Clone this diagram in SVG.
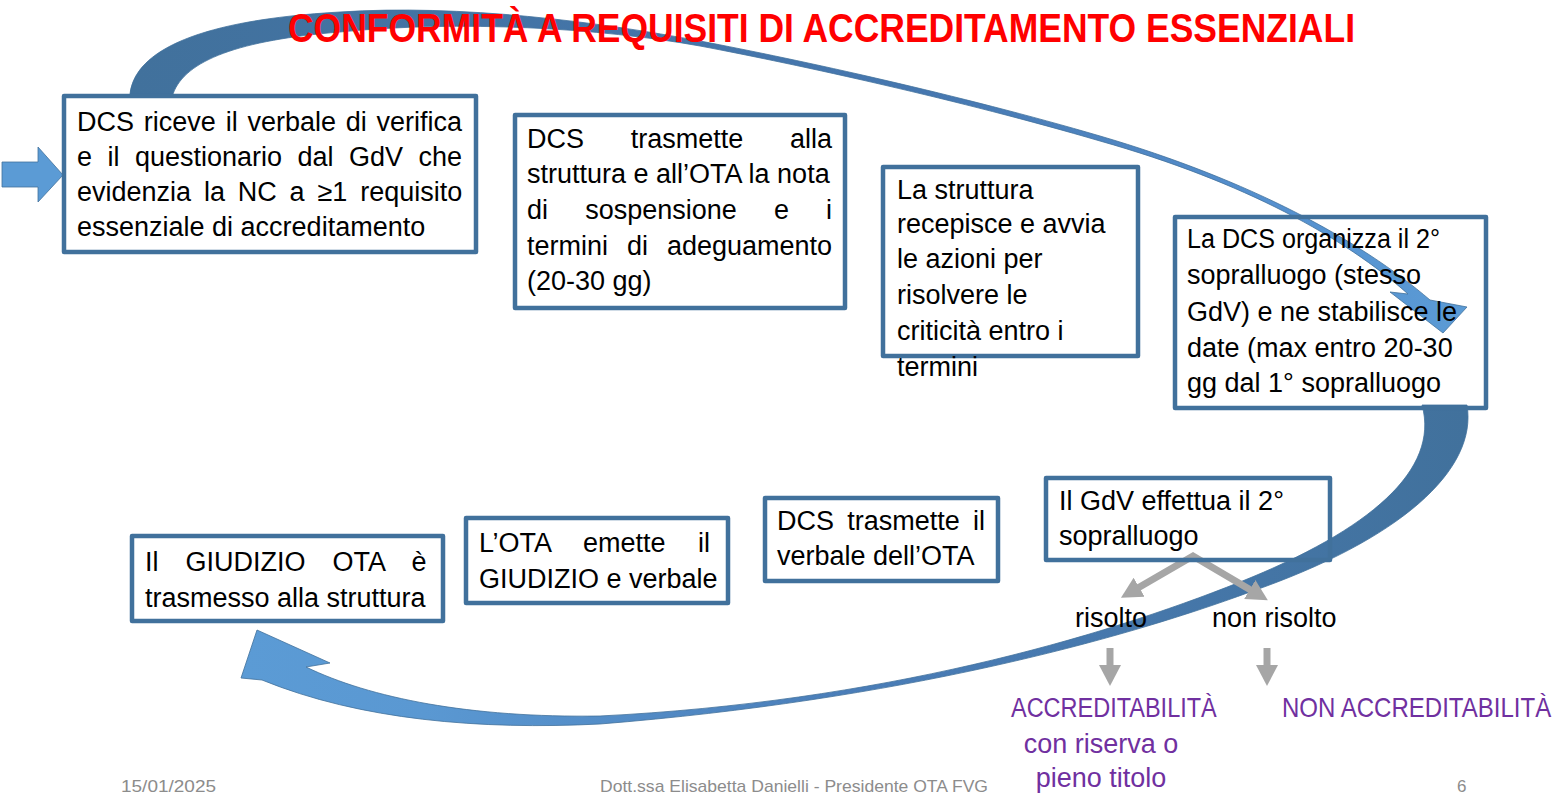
<svg xmlns="http://www.w3.org/2000/svg" width="1557" height="793" viewBox="0 0 1557 793">
<style>
.box{fill:none;stroke:#41719C;stroke-width:4.5;stroke-linejoin:round}
.t{font-family:'Liberation Sans',Arial,sans-serif;font-size:27px;fill:#000}
.p{font-family:'Liberation Sans',Arial,sans-serif;font-size:27px;fill:#7030A0}
.g{fill:none;stroke:#A6A6A6;stroke-width:7;stroke-linejoin:miter}
.f{font-family:'Liberation Sans',Arial,sans-serif;font-size:17px;fill:#8C8C8C}
.blk{stroke:#41719C;stroke-width:0.8}
</style>
<defs>
<linearGradient id="topGrad" x1="0" y1="0" x2="1" y2="0">
<stop offset="0" stop-color="#41719C"/>
<stop offset="0.6" stop-color="#4677B0"/>
<stop offset="0.85" stop-color="#5590CF"/>
<stop offset="1" stop-color="#5B9BD5"/>
</linearGradient>
<linearGradient id="botGrad" x1="0" y1="0" x2="1" y2="0">
<stop offset="0" stop-color="#5B9BD5"/>
<stop offset="0.15" stop-color="#5A98D2"/>
<stop offset="0.5" stop-color="#4A7DB8"/>
<stop offset="1" stop-color="#41719C"/>
</linearGradient>
<marker id="gh" markerUnits="userSpaceOnUse" markerWidth="22" markerHeight="24" viewBox="0 -12 22 24" refX="2" refY="0" orient="auto-start-reverse">
<path d="M0,-11 L21,0 L0,11 Z" fill="#A6A6A6"/>
</marker>
</defs>

<g id="connectors">
<path class="blk" fill="url(#topGrad)" d="M130,94 C135,50 200,20 340,12 C460,4 600,22 700,41 C800,60 960,95 1100,136 C1250,180 1360,240 1430,300 L1467,307 L1443,333 L1390,292 L1408,294 C1345,238 1245,182 1100,141 C960,100 800,65 700,46 C600,28 460,20 340,32 C240,40 185,60 173,94 Z"/>
<path class="blk" fill="url(#botGrad)" d="M1467,405 C1478,470 1400,540 1250,592 C1120,640 900,700 600,724 C480,730 360,720 262,680 L241,678 L257,630 L330,663 L306,667 C370,698 470,718 600,716 C880,702 1100,638 1240,582 C1370,530 1440,470 1422,405 Z"/>
<polygon class="blk" fill="#5B9BD5" points="2,162 38,162 38,147 63,175 38,202 38,187 2,187"/>
<path class="g" d="M1137.4,588.3 L1193,556 L1251.5,590.6" marker-start="url(#gh)" marker-end="url(#gh)"/>
<path class="g" d="M1110,648 L1110,667" marker-end="url(#gh)"/>
<path class="g" d="M1267,648 L1267,667" marker-end="url(#gh)"/>
</g>

<g id="title">
<text x="288" y="42" font-family="'Liberation Sans',Arial,sans-serif" font-size="40" font-weight="bold" fill="#FF0000" textLength="1067" lengthAdjust="spacingAndGlyphs">CONFORMITÀ A REQUISITI DI ACCREDITAMENTO ESSENZIALI</text>
</g>

<g id="node-dcs-riceve">
<rect class="box" x="64" y="96" width="412" height="156"/>
<text class="t" x="77" y="131" word-spacing="2.3">DCS riceve il verbale di verifica</text>
<text class="t" x="77" y="166" word-spacing="7.98">e il questionario dal GdV che</text>
<text class="t" x="77" y="201" word-spacing="5.34">evidenzia la NC a ≥1 requisito</text>
<text class="t" x="77" y="236">essenziale di accreditamento</text>
</g>

<g id="node-dcs-trasmette">
<rect class="box" x="515" y="115" width="330" height="193"/>
<text class="t" x="527" y="148" word-spacing="39.25">DCS trasmette alla</text>
<text class="t" x="527" y="183">struttura e all’OTA la nota</text>
<text class="t" x="527" y="219" word-spacing="29.63">di sospensione e i</text>
<text class="t" x="527" y="255" word-spacing="11.45">termini di adeguamento</text>
<text class="t" x="527" y="290">(20-30 gg)</text>
</g>

<g id="node-struttura">
<rect class="box" x="883" y="167" width="255" height="189"/>
<text class="t" x="897" y="199">La struttura</text>
<text class="t" x="897" y="233">recepisce e avvia</text>
<text class="t" x="897" y="268">le azioni per</text>
<text class="t" x="897" y="304">risolvere le</text>
<text class="t" x="897" y="340">criticità entro i</text>
<text class="t" x="897" y="376">termini</text>
</g>

<g id="node-dcs-organizza">
<rect class="box" x="1175" y="217" width="311" height="191"/>
<text class="t" x="1187" y="248" textLength="253" lengthAdjust="spacingAndGlyphs">La DCS organizza il 2°</text>
<text class="t" x="1187" y="284">sopralluogo (stesso</text>
<text class="t" x="1187" y="321">GdV) e ne stabilisce le</text>
<text class="t" x="1187" y="357">date (max entro 20-30</text>
<text class="t" x="1187" y="392">gg dal 1° sopralluogo</text>
</g>

<g id="node-gdv">
<rect class="box" x="1046" y="478" width="284" height="82"/>
<text class="t" x="1059" y="510">Il GdV effettua il 2°</text>
<text class="t" x="1059" y="545">sopralluogo</text>
</g>

<g id="node-dcs-verbale">
<rect class="box" x="765" y="498" width="233" height="83"/>
<text class="t" x="777" y="530" word-spacing="5.75">DCS trasmette il</text>
<text class="t" x="777" y="565">verbale dell’OTA</text>
</g>

<g id="node-ota-emette">
<rect class="box" x="466" y="518" width="262" height="85"/>
<text class="t" x="479" y="552" word-spacing="25">L’OTA emette il</text>
<text class="t" x="479" y="588">GIUDIZIO e verbale</text>
</g>

<g id="node-giudizio">
<rect class="box" x="132" y="536" width="311" height="85"/>
<text class="t" x="145" y="571" word-spacing="19.5">Il GIUDIZIO OTA è</text>
<text class="t" x="145" y="607">trasmesso alla struttura</text>
</g>

<g id="label-risolto">
<text class="t" x="1075" y="627">risolto</text>
</g>
<g id="label-non-risolto">
<text class="t" x="1212" y="627">non risolto</text>
</g>

<g id="outcome-accreditabilita">
<text class="p" transform="translate(1011,717) scale(0.87,1)">ACCREDITABILITÀ</text>
<text class="p" x="1101" y="753" text-anchor="middle">con riserva o</text>
<text class="p" x="1101" y="787" text-anchor="middle">pieno titolo</text>
</g>
<g id="outcome-non-accreditabilita">
<text class="p" transform="translate(1282,717) scale(0.89,1)">NON ACCREDITABILITÀ</text>
</g>

<g id="footer">
<text class="f" x="121" y="792" textLength="95" lengthAdjust="spacingAndGlyphs">15/01/2025</text>
<text class="f" x="600" y="792" textLength="388" lengthAdjust="spacingAndGlyphs">Dott.ssa Elisabetta Danielli - Presidente OTA FVG</text>
<text class="f" x="1457" y="792">6</text>
</g>
</svg>
